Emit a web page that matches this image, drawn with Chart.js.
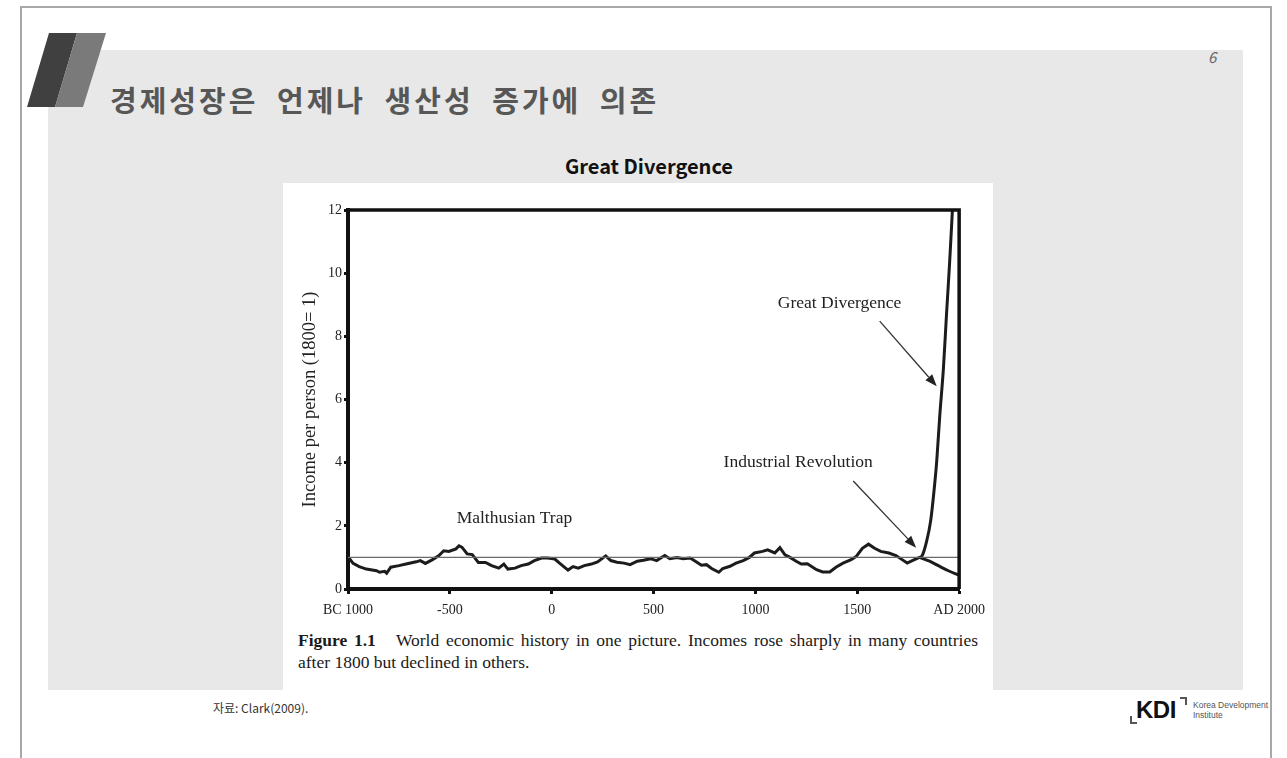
<!DOCTYPE html>
<html>
<head>
<meta charset="utf-8">
<script src="https://cdn.jsdelivr.net/npm/chart.js@4"></script>
<style>
  body { margin: 0; width: 1287px; height: 758px; background: #fff; position: relative; overflow: hidden; font-family: "Noto Sans CJK KR", "Noto Sans", sans-serif; }
  .frame { position: absolute; left: 20px; top: 6px; width: 1248px; height: 760px; border: 2px solid #a8a8a8; border-bottom: none; }
  .panel { position: absolute; left: 48px; top: 50px; width: 1195px; height: 640px; background: #e8e8e8; }
  .bar1 { position: absolute; left: 27px; top: 33px; width: 50px; height: 74px; background: #404040; clip-path: polygon(22px 0, 50px 0, 28px 74px, 0 74px); }
  .bar2 { position: absolute; left: 55px; top: 33px; width: 51px; height: 74px; background: #7a7a7a; clip-path: polygon(22px 0, 51px 0, 28px 74px, 0 74px); }
  .title { position: absolute; left: 110px; top: 78px; font-size: 29px; font-weight: bold; color: #575757; white-space: nowrap; letter-spacing: 3px; word-spacing: 9px; }
  .pageno { position: absolute; left: 1208px; top: 46px; font-size: 15px; font-style: italic; color: #666; }
  .subtitle { position: absolute; left: 283px; width: 732px; top: 151px; text-align: center; font-size: 20px; font-weight: bold; color: #111; }
  .figbox { position: absolute; left: 283px; top: 183px; width: 710px; height: 507px; background: #fff; }
  #chart-wrap { position: absolute; left: 0; top: 0; width: 710px; height: 440px; }
  .caption { position: absolute; left: 15px; top: 446px; width: 680px; font-family: "Liberation Serif", serif; font-size: 17.5px; line-height: 22px; color: #1a1a1a; text-align: justify; }
  .source { position: absolute; left: 213px; top: 699px; font-size: 12px; color: #333; }
  .kdi { position: absolute; left: 1136px; top: 696px; font-family: "Liberation Sans", sans-serif; font-size: 24px; font-weight: bold; color: #111; letter-spacing: -0.5px; }
  .kdi-bl { position: absolute; left: 1130px; top: 716px; width: 5px; height: 6px; border-left: 2px solid #555; border-bottom: 2px solid #555; }
  .kdi-tr { position: absolute; left: 1180px; top: 697px; width: 5px; height: 6px; border-right: 2px solid #555; border-top: 2px solid #555; }
  .kdi-txt { position: absolute; left: 1193px; top: 700px; font-family: "Liberation Sans", sans-serif; font-size: 8.5px; line-height: 10px; color: #555; }
</style>
</head>
<body>
<div class="frame"></div>
<div class="panel"></div>
<div class="bar1"></div>
<div class="bar2"></div>
<div class="title">경제성장은 언제나 생산성 증가에 의존</div>
<div class="pageno">6</div>
<div class="subtitle">Great Divergence</div>
<div class="figbox">
  <div id="chart-wrap"><canvas id="chart"></canvas></div>
  <div class="caption"><b>Figure 1.1</b>&nbsp;&nbsp;&nbsp;World economic history in one picture. Incomes rose sharply in many countries after 1800 but declined in others.</div>
</div>
<div class="source">자료: Clark(2009).</div>
<div class="kdi-bl"></div>
<div class="kdi">KDI</div>
<div class="kdi-tr"></div>
<div class="kdi-txt">Korea Development<br>Institute</div>

<script>
// Income per person (1800 = 1)
const years = [-1000, -975, -945, -910, -860, -845, -820, -810, -790, -750, -715, -665, -645, -620, -585, -555, -530, -505, -470, -455, -440, -415, -390, -360, -325, -295, -260, -235, -215, -180, -150, -115, -85, -50, -20, 15, 40, 80, 105, 130, 160, 195, 225, 265, 290, 320, 355, 385, 420, 450, 485, 515, 555, 580, 615, 645, 680, 705, 735, 760, 785, 820, 840, 875, 905, 940, 970, 995, 1035, 1060, 1095, 1120, 1145, 1170, 1200, 1225, 1255, 1300, 1330, 1365, 1395, 1430, 1470, 1495, 1525, 1555, 1585, 1615, 1655, 1690, 1720, 1745, 1770, 1805];
const income = [1.02, 0.81, 0.71, 0.63, 0.58, 0.53, 0.56, 0.50, 0.69, 0.74, 0.79, 0.86, 0.90, 0.81, 0.93, 1.05, 1.21, 1.19, 1.27, 1.37, 1.32, 1.11, 1.09, 0.84, 0.84, 0.74, 0.66, 0.79, 0.63, 0.66, 0.74, 0.79, 0.90, 0.98, 0.98, 0.95, 0.81, 0.60, 0.71, 0.66, 0.74, 0.79, 0.86, 1.05, 0.90, 0.85, 0.82, 0.77, 0.88, 0.91, 0.96, 0.90, 1.06, 0.96, 1.00, 0.96, 0.98, 0.88, 0.75, 0.77, 0.65, 0.53, 0.65, 0.72, 0.82, 0.90, 1.00, 1.14, 1.19, 1.24, 1.14, 1.31, 1.08, 1.00, 0.88, 0.79, 0.80, 0.61, 0.54, 0.54, 0.69, 0.82, 0.93, 1.03, 1.29, 1.42, 1.29, 1.19, 1.14, 1.06, 0.93, 0.82, 0.90, 1.00];

// after 1800: the rising branch and the declining branch
const riseYears = [1805, 1818, 1840, 1860, 1875, 1890, 1905, 1923, 1938, 1953, 1967];
const riseIncome = [1.00, 1.05, 1.5, 2.15, 3.0, 4.05, 5.5, 7.0, 8.7, 10.3, 12.0];
const fallYears = [1805, 1855, 1900, 1950, 2000];
const fallIncome = [1.00, 0.88, 0.73, 0.57, 0.43];

const baseline = 1;
const xTickLabels = ['BC 1000', '-500', '0', '500', '1000', '1500', 'AD 2000'];
const xTickValues = [-1000, -500, 0, 500, 1000, 1500, 2000];

// text labels and arrows on the chart (data coordinates)
const notes = [
    { text: 'Malthusian Trap', x: -183, y: 2.22 },
    { text: 'Industrial Revolution', x: 1210, y: 4.0 },
    { text: 'Great Divergence', x: 1413, y: 9.03 }
];
const arrows = [
    { from: [1610, 8.48], to: [1890, 6.42] },
    { from: [1480, 3.42], to: [1789, 1.31] }
];

const toPoints = (xs, ys) => xs.map((x, i) => ({ x: x, y: ys[i] }));
const serif = '"Liberation Serif", "Times New Roman", serif';

// Draw the top and right edges of the plot box
const boxPlugin = {
    id: 'boxPlugin',
    afterDraw(chart) {
        const { ctx, chartArea: a } = chart;
        ctx.save();
        ctx.strokeStyle = '#111';
        ctx.lineWidth = 3.5;
        ctx.beginPath();
        ctx.moveTo(a.left, a.top);
        ctx.lineTo(a.right, a.top);
        ctx.lineTo(a.right, a.bottom);
        ctx.stroke();
        ctx.restore();
    }
};

// Draw annotation text and arrows
const notePlugin = {
    id: 'notePlugin',
    afterDatasetsDraw(chart) {
        const { ctx, scales: { x, y } } = chart;
        ctx.save();
        ctx.fillStyle = '#222';
        ctx.font = '17.5px ' + serif;
        ctx.textAlign = 'center';
        ctx.textBaseline = 'middle';
        notes.forEach(n => {
            ctx.fillText(n.text, x.getPixelForValue(n.x), y.getPixelForValue(n.y));
        });
        ctx.strokeStyle = '#333';
        ctx.lineWidth = 1.3;
        arrows.forEach(a => {
            const x1 = x.getPixelForValue(a.from[0]), y1 = y.getPixelForValue(a.from[1]);
            const x2 = x.getPixelForValue(a.to[0]), y2 = y.getPixelForValue(a.to[1]);
            const ang = Math.atan2(y2 - y1, x2 - x1);
            const len = 12, half = 4.5;
            const bx = x2 - len * Math.cos(ang), by = y2 - len * Math.sin(ang);
            ctx.beginPath();
            ctx.moveTo(x1, y1);
            ctx.lineTo(bx, by);
            ctx.stroke();
            ctx.beginPath();
            ctx.moveTo(x2, y2);
            ctx.lineTo(bx - half * Math.sin(ang), by + half * Math.cos(ang));
            ctx.lineTo(bx + half * Math.sin(ang), by - half * Math.cos(ang));
            ctx.closePath();
            ctx.fillStyle = '#222';
            ctx.fill();
        });
        ctx.restore();
    }
};

const lineStyle = {
    borderColor: '#1c1c1c',
    borderWidth: 3,
    pointRadius: 0,
    tension: 0,
    fill: false
};

new Chart(document.getElementById('chart'), {
    type: 'line',
    data: {
        datasets: [
            {
                label: 'baseline',
                data: [{ x: -1000, y: baseline }, { x: 2000, y: baseline }],
                borderColor: '#6a6a6a',
                borderWidth: 1.3,
                pointRadius: 0
            },
            Object.assign({ label: 'income', data: toPoints(years, income) }, lineStyle),
            Object.assign({ label: 'rise', data: toPoints(riseYears, riseIncome), cubicInterpolationMode: 'monotone' }, lineStyle),
            Object.assign({ label: 'fall', data: toPoints(fallYears, fallIncome), cubicInterpolationMode: 'monotone' }, lineStyle)
        ]
    },
    options: {
        responsive: true,
        maintainAspectRatio: false,
        animation: false,
        events: [],
        layout: { padding: { left: 0, top: 27, right: 30, bottom: 0 } },
        plugins: {
            legend: { display: false },
            tooltip: { enabled: false }
        },
        scales: {
            x: {
                type: 'linear',
                min: -1000,
                max: 2000,
                afterFit: s => { s.height = 34; },
                afterBuildTicks: s => { s.ticks = xTickValues.map(v => ({ value: v })); },
                ticks: {
                    autoSkip: false,
                    maxRotation: 0,
                    padding: 8,
                    color: '#222',
                    font: { family: serif, size: 14 },
                    callback: (v) => xTickLabels[xTickValues.indexOf(v)]
                },
                grid: { drawOnChartArea: false, tickLength: 5, tickWidth: 3, color: '#111' },
                border: { color: '#111', width: 4 }
            },
            y: {
                min: 0,
                max: 12,
                afterFit: s => { s.width = 65; },
                ticks: {
                    stepSize: 2,
                    padding: 2,
                    color: '#222',
                    font: { family: serif, size: 14 }
                },
                title: {
                    display: true,
                    text: 'Income per person (1800= 1)',
                    color: '#222',
                    font: { family: serif, size: 18.5 },
                    padding: { top: 16, bottom: 0 }
                },
                grid: { drawOnChartArea: false, tickLength: 4, tickWidth: 3, color: '#111' },
                border: { color: '#111', width: 4 }
            }
        }
    },
    plugins: [boxPlugin, notePlugin]
});
</script>
</body>
</html>
